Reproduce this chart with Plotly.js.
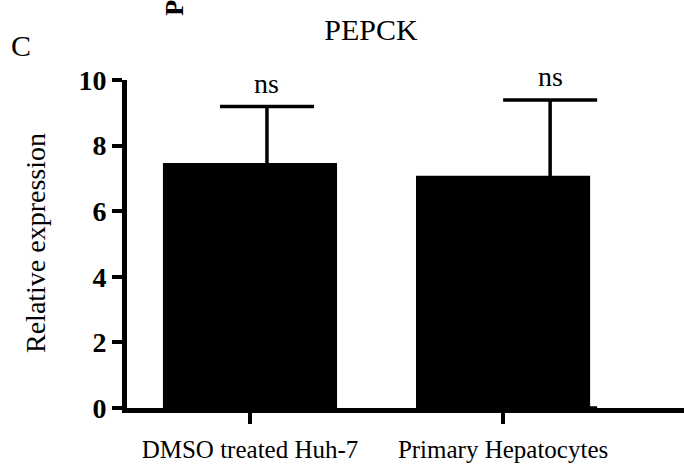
<!DOCTYPE html>
<html>
<head>
<meta charset="utf-8">
<script src="https://cdn.plot.ly/plotly-3.0.1.min.js"></script>
<style>html,body{margin:0;padding:0;background:#fff;}#chart{width:684px;height:468px;}</style>
</head>
<body>
<div id="chart"></div>
<script>
// Data
const categories = ["DMSO treated Huh-7", "Primary Hepatocytes"];
const means = [7.47, 7.08];
const sdUp = [1.72, 2.31];
const sigLabels = ["ns", "ns"];
const yTicks = [0, 2, 4, 6, 8, 10];

// Layout-only: horizontal shift of each error bar from its bar centre (category units)
const errShift = [0.067, 0.186];
const errBarW = 0.01;

const FONT = "Liberation Serif, Times New Roman, serif";

const tops = means.map((m, i) => m + sdUp[i]);

const bars = {
  type: "bar",
  x: categories,
  y: means,
  width: 0.688,
  marker: {color: "#000000", line: {width: 0}},
  hoverinfo: "skip",
  showlegend: false
};

// invisible carrier bar: whisker from mean+SD down to the axis (lower cap hidden under the axis line)
const errTrace = {
  type: "bar",
  x: categories,
  y: tops,
  width: errBarW,
  offset: errShift.map(s => s - errBarW / 2),
  marker: {color: "rgba(0,0,0,0)", line: {width: 0}},
  error_y: {type: "data", symmetric: false, array: tops.map(() => 0), arrayminus: tops,
            color: "#000000", thickness: 3.5, width: 47},
  hoverinfo: "skip",
  showlegend: false
};

const annotations = sigLabels.map((t, i) => ({
  text: t, xref: "x", yref: "y",
  x: i + errShift[i], y: tops[i],
  xanchor: "center", yanchor: "bottom", yshift: 6,
  showarrow: false, font: {family: FONT, size: 28, color: "#000"}
}));
annotations.push({
  text: "Relative expression", xref: "paper", yref: "paper",
  x: 0, y: 0.5, yshift: 1, xshift: -92, xanchor: "center", yanchor: "middle",
  textangle: -90, showarrow: false, font: {family: FONT, size: 28, color: "#000"}
});
annotations.push({
  text: "C", xref: "paper", yref: "paper",
  x: -0.19, y: 1.104, xanchor: "center", yanchor: "middle",
  showarrow: false, font: {family: FONT, size: 30, color: "#000"}
});
annotations.push({
  text: "<b>P</b>", xref: "paper", yref: "paper",
  x: 0.084, y: 1.189, xanchor: "center", yanchor: "bottom",
  textangle: -90, showarrow: false, font: {family: FONT, size: 26, color: "#000"}
});

const layout = {
  width: 684, height: 468,
  margin: {l: 127, r: 0, t: 80, b: 60},
  paper_bgcolor: "#ffffff", plot_bgcolor: "#ffffff",
  barmode: "overlay",
  showlegend: false,
  title: {text: "PEPCK", xref: "paper", x: 0.438, xanchor: "center",
          yref: "container", y: 0.936, yanchor: "middle",
          font: {family: FONT, size: 30, color: "#000"}},
  xaxis: {
    type: "category", range: [-0.486, 1.715],
    showline: true, linecolor: "#000", linewidth: 5, layer: "above traces",
    ticks: "outside", ticklen: 11, tickwidth: 4, tickcolor: "#000",
    showgrid: false, zeroline: false,
    tickfont: {family: FONT, size: 25, color: "#000"},
    ticklabelstandoff: 4
  },
  yaxis: {
    range: [0, 10], tickvals: yTicks, ticktext: yTicks.map(v => String(v)),
    showline: true, linecolor: "#000", linewidth: 5, layer: "above traces",
    ticks: "outside", ticklen: 10, tickwidth: 4, tickcolor: "#000",
    showgrid: false, zeroline: false,
    tickfont: {family: FONT, size: 28, color: "#000", weight: "bold"}
  },
  annotations: annotations
};

Plotly.newPlot("chart", [errTrace, bars], layout, {displayModeBar: false, staticPlot: true});
</script>
</body>
</html>
